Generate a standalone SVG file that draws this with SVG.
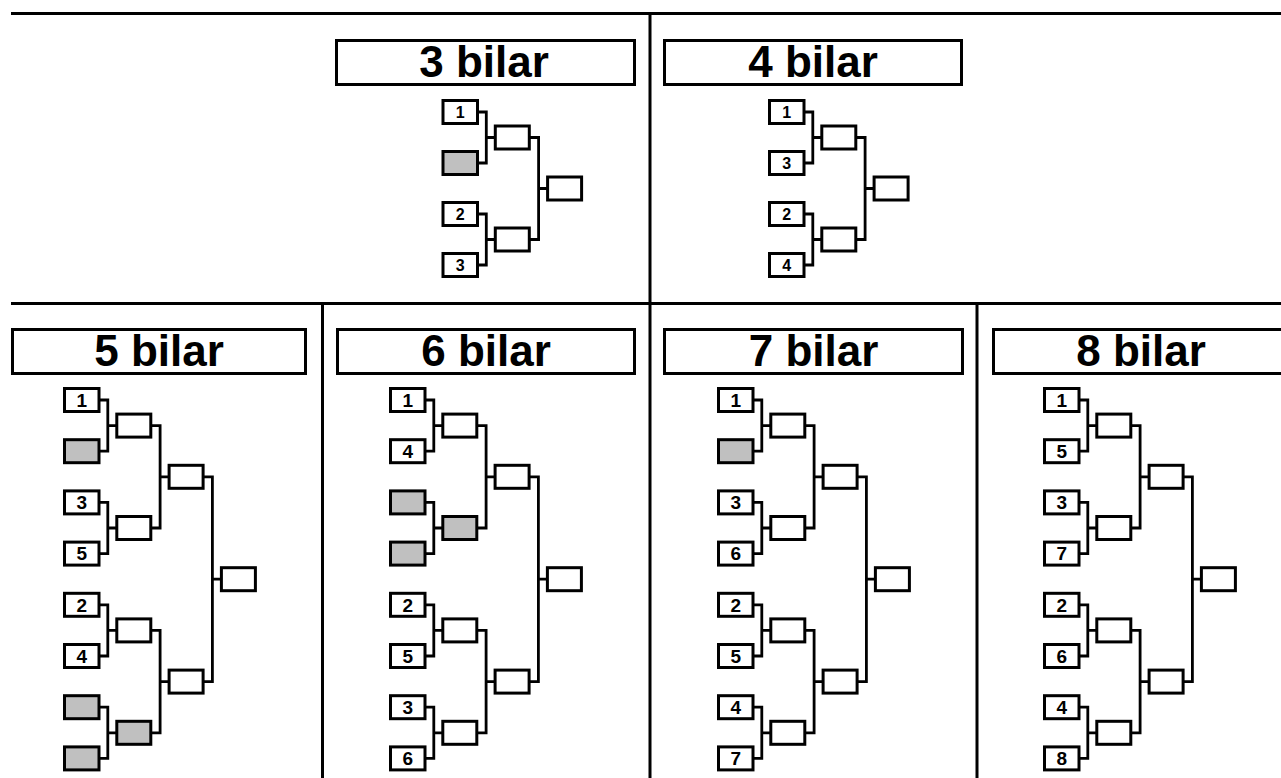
<svg xmlns="http://www.w3.org/2000/svg" xmlns:xlink="http://www.w3.org/1999/xlink" width="1281" height="778" viewBox="0 0 1281 778">
<style>
.frame{fill:none;stroke:#000;stroke-width:3}
.tbox{fill:#fff;stroke:#000;stroke-width:3}
.box{fill:#fff;stroke:#000;stroke-width:3}
.gray{fill:#c0c0c0}
.ln{fill:none;stroke:#000;stroke-width:2.8}
.title{font-family:"Liberation Sans",Arial,sans-serif;font-weight:bold;font-size:44px;text-anchor:middle;fill:#000}
.nt{font-family:"Liberation Sans",Arial,sans-serif;font-weight:bold;font-size:16px;text-anchor:middle;fill:#000}
.nb{font-family:"Liberation Sans",Arial,sans-serif;font-weight:bold;font-size:19px;text-anchor:middle;fill:#000}
</style>
<defs>
<path id="connTop" class="ln" d="M36 112 H44.8 V163 H36 M44.8 137.5 H53.8 M36 214 H44.8 V265 H36 M44.8 239.5 H53.8 M87.8 137.5 H97.1 V239.5 H87.8 M97.1 188.5 H106.1"/>
<path id="connBot" class="ln" d="M36 400 H44.8 V451.2 H36 M44.8 425.6 H53.8 M36 502.4 H44.8 V553.6 H36 M44.8 528 H53.8 M36 604.8 H44.8 V656 H36 M44.8 630.4 H53.8 M36 707.2 H44.8 V758.4 H36 M44.8 732.8 H53.8 M87.8 425.6 H97.1 V528 H87.8 M97.1 476.8 H106.1 M87.8 630.4 H97.1 V732.8 H87.8 M97.1 681.6 H106.1 M140.1 476.8 H149.4 V681.6 H140.1 M149.4 579.2 H158.4"/>
</defs>
<rect x="0" y="0" width="1281" height="778" fill="#fff"/>
<g id="frame">
<path class="frame" d="M11 13.5 H1281 M11 303.5 H1281 M650 13.5 V778 M322.5 303.5 V778 M977 303.5 V778"/>
</g>
<g id="connectors">
<use xlink:href="#connTop" transform="translate(441.5,0)"/>
<use xlink:href="#connTop" transform="translate(768,0)"/>
<use xlink:href="#connBot" transform="translate(63,0)"/>
<use xlink:href="#connBot" transform="translate(389,0)"/>
<use xlink:href="#connBot" transform="translate(717,0)"/>
<use xlink:href="#connBot" transform="translate(1043,0)"/>
</g>
<!-- 3 bilar -->
<g id="t3"><rect class="tbox" x="336.5" y="40.5" width="298" height="44"/><text class="title" x="484" y="77">3 bilar</text></g>
<g transform="translate(441.5,0)">
<g id="p3-e1"><rect class="box" x="1.5" y="100.5" width="34.5" height="23"/><text class="nt" x="18.75" y="117.7">1</text></g>
<g id="p3-e2"><rect class="box gray" x="1.5" y="151.5" width="34.5" height="23"/></g>
<g id="p3-e3"><rect class="box" x="1.5" y="202.5" width="34.5" height="23"/><text class="nt" x="18.75" y="219.7">2</text></g>
<g id="p3-e4"><rect class="box" x="1.5" y="253.5" width="34.5" height="23"/><text class="nt" x="18.75" y="270.7">3</text></g>
<g id="p3-r1a"><rect class="box" x="53.8" y="126" width="34" height="23"/></g>
<g id="p3-r1b"><rect class="box" x="53.8" y="228" width="34" height="23"/></g>
<g id="p3-f"><rect class="box" x="106.1" y="177" width="34" height="23"/></g>
</g>
<!-- 4 bilar -->
<g id="t4"><rect class="tbox" x="664.5" y="40.5" width="297" height="44"/><text class="title" x="813" y="77">4 bilar</text></g>
<g transform="translate(768,0)">
<g id="p4-e1"><rect class="box" x="1.5" y="100.5" width="34.5" height="23"/><text class="nt" x="18.75" y="117.7">1</text></g>
<g id="p4-e2"><rect class="box" x="1.5" y="151.5" width="34.5" height="23"/><text class="nt" x="18.75" y="168.7">3</text></g>
<g id="p4-e3"><rect class="box" x="1.5" y="202.5" width="34.5" height="23"/><text class="nt" x="18.75" y="219.7">2</text></g>
<g id="p4-e4"><rect class="box" x="1.5" y="253.5" width="34.5" height="23"/><text class="nt" x="18.75" y="270.7">4</text></g>
<g id="p4-r1a"><rect class="box" x="53.8" y="126" width="34" height="23"/></g>
<g id="p4-r1b"><rect class="box" x="53.8" y="228" width="34" height="23"/></g>
<g id="p4-f"><rect class="box" x="106.1" y="177" width="34" height="23"/></g>
</g>
<!-- 5 bilar -->
<g id="t5"><rect class="tbox" x="12.5" y="329.5" width="293" height="44"/><text class="title" x="159" y="366">5 bilar</text></g>
<g transform="translate(63,0)">
<g id="p5-e1"><rect class="box" x="1.5" y="388.5" width="34.5" height="23"/><text class="nb" x="18.75" y="406.8">1</text></g>
<g id="p5-e2"><rect class="box gray" x="1.5" y="439.7" width="34.5" height="23"/></g>
<g id="p5-e3"><rect class="box" x="1.5" y="490.9" width="34.5" height="23"/><text class="nb" x="18.75" y="509.2">3</text></g>
<g id="p5-e4"><rect class="box" x="1.5" y="542.1" width="34.5" height="23"/><text class="nb" x="18.75" y="560.4">5</text></g>
<g id="p5-e5"><rect class="box" x="1.5" y="593.3" width="34.5" height="23"/><text class="nb" x="18.75" y="611.6">2</text></g>
<g id="p5-e6"><rect class="box" x="1.5" y="644.5" width="34.5" height="23"/><text class="nb" x="18.75" y="662.8">4</text></g>
<g id="p5-e7"><rect class="box gray" x="1.5" y="695.7" width="34.5" height="23"/></g>
<g id="p5-e8"><rect class="box gray" x="1.5" y="746.9" width="34.5" height="23"/></g>
<g id="p5-r1a"><rect class="box" x="53.8" y="414.1" width="34" height="23"/></g>
<g id="p5-r1b"><rect class="box" x="53.8" y="516.5" width="34" height="23"/></g>
<g id="p5-r1c"><rect class="box" x="53.8" y="618.9" width="34" height="23"/></g>
<g id="p5-r1d"><rect class="box gray" x="53.8" y="721.3" width="34" height="23"/></g>
<g id="p5-r2a"><rect class="box" x="106.1" y="465.3" width="34" height="23"/></g>
<g id="p5-r2b"><rect class="box" x="106.1" y="670.1" width="34" height="23"/></g>
<g id="p5-f"><rect class="box" x="158.4" y="567.7" width="34" height="23"/></g>
</g>
<!-- 6 bilar -->
<g id="t6"><rect class="tbox" x="337.5" y="329.5" width="297" height="44"/><text class="title" x="486" y="366">6 bilar</text></g>
<g transform="translate(389,0)">
<g id="p6-e1"><rect class="box" x="1.5" y="388.5" width="34.5" height="23"/><text class="nb" x="18.75" y="406.8">1</text></g>
<g id="p6-e2"><rect class="box" x="1.5" y="439.7" width="34.5" height="23"/><text class="nb" x="18.75" y="458">4</text></g>
<g id="p6-e3"><rect class="box gray" x="1.5" y="490.9" width="34.5" height="23"/></g>
<g id="p6-e4"><rect class="box gray" x="1.5" y="542.1" width="34.5" height="23"/></g>
<g id="p6-e5"><rect class="box" x="1.5" y="593.3" width="34.5" height="23"/><text class="nb" x="18.75" y="611.6">2</text></g>
<g id="p6-e6"><rect class="box" x="1.5" y="644.5" width="34.5" height="23"/><text class="nb" x="18.75" y="662.8">5</text></g>
<g id="p6-e7"><rect class="box" x="1.5" y="695.7" width="34.5" height="23"/><text class="nb" x="18.75" y="714">3</text></g>
<g id="p6-e8"><rect class="box" x="1.5" y="746.9" width="34.5" height="23"/><text class="nb" x="18.75" y="765.2">6</text></g>
<g id="p6-r1a"><rect class="box" x="53.8" y="414.1" width="34" height="23"/></g>
<g id="p6-r1b"><rect class="box gray" x="53.8" y="516.5" width="34" height="23"/></g>
<g id="p6-r1c"><rect class="box" x="53.8" y="618.9" width="34" height="23"/></g>
<g id="p6-r1d"><rect class="box" x="53.8" y="721.3" width="34" height="23"/></g>
<g id="p6-r2a"><rect class="box" x="106.1" y="465.3" width="34" height="23"/></g>
<g id="p6-r2b"><rect class="box" x="106.1" y="670.1" width="34" height="23"/></g>
<g id="p6-f"><rect class="box" x="158.4" y="567.7" width="34" height="23"/></g>
</g>
<!-- 7 bilar -->
<g id="t7"><rect class="tbox" x="664.5" y="329.5" width="298" height="44"/><text class="title" x="813.5" y="366">7 bilar</text></g>
<g transform="translate(717,0)">
<g id="p7-e1"><rect class="box" x="1.5" y="388.5" width="34.5" height="23"/><text class="nb" x="18.75" y="406.8">1</text></g>
<g id="p7-e2"><rect class="box gray" x="1.5" y="439.7" width="34.5" height="23"/></g>
<g id="p7-e3"><rect class="box" x="1.5" y="490.9" width="34.5" height="23"/><text class="nb" x="18.75" y="509.2">3</text></g>
<g id="p7-e4"><rect class="box" x="1.5" y="542.1" width="34.5" height="23"/><text class="nb" x="18.75" y="560.4">6</text></g>
<g id="p7-e5"><rect class="box" x="1.5" y="593.3" width="34.5" height="23"/><text class="nb" x="18.75" y="611.6">2</text></g>
<g id="p7-e6"><rect class="box" x="1.5" y="644.5" width="34.5" height="23"/><text class="nb" x="18.75" y="662.8">5</text></g>
<g id="p7-e7"><rect class="box" x="1.5" y="695.7" width="34.5" height="23"/><text class="nb" x="18.75" y="714">4</text></g>
<g id="p7-e8"><rect class="box" x="1.5" y="746.9" width="34.5" height="23"/><text class="nb" x="18.75" y="765.2">7</text></g>
<g id="p7-r1a"><rect class="box" x="53.8" y="414.1" width="34" height="23"/></g>
<g id="p7-r1b"><rect class="box" x="53.8" y="516.5" width="34" height="23"/></g>
<g id="p7-r1c"><rect class="box" x="53.8" y="618.9" width="34" height="23"/></g>
<g id="p7-r1d"><rect class="box" x="53.8" y="721.3" width="34" height="23"/></g>
<g id="p7-r2a"><rect class="box" x="106.1" y="465.3" width="34" height="23"/></g>
<g id="p7-r2b"><rect class="box" x="106.1" y="670.1" width="34" height="23"/></g>
<g id="p7-f"><rect class="box" x="158.4" y="567.7" width="34" height="23"/></g>
</g>
<!-- 8 bilar -->
<g id="t8"><rect class="tbox" x="993.5" y="329.5" width="297" height="44"/><text class="title" x="1141" y="366">8 bilar</text></g>
<g transform="translate(1043,0)">
<g id="p8-e1"><rect class="box" x="1.5" y="388.5" width="34.5" height="23"/><text class="nb" x="18.75" y="406.8">1</text></g>
<g id="p8-e2"><rect class="box" x="1.5" y="439.7" width="34.5" height="23"/><text class="nb" x="18.75" y="458">5</text></g>
<g id="p8-e3"><rect class="box" x="1.5" y="490.9" width="34.5" height="23"/><text class="nb" x="18.75" y="509.2">3</text></g>
<g id="p8-e4"><rect class="box" x="1.5" y="542.1" width="34.5" height="23"/><text class="nb" x="18.75" y="560.4">7</text></g>
<g id="p8-e5"><rect class="box" x="1.5" y="593.3" width="34.5" height="23"/><text class="nb" x="18.75" y="611.6">2</text></g>
<g id="p8-e6"><rect class="box" x="1.5" y="644.5" width="34.5" height="23"/><text class="nb" x="18.75" y="662.8">6</text></g>
<g id="p8-e7"><rect class="box" x="1.5" y="695.7" width="34.5" height="23"/><text class="nb" x="18.75" y="714">4</text></g>
<g id="p8-e8"><rect class="box" x="1.5" y="746.9" width="34.5" height="23"/><text class="nb" x="18.75" y="765.2">8</text></g>
<g id="p8-r1a"><rect class="box" x="53.8" y="414.1" width="34" height="23"/></g>
<g id="p8-r1b"><rect class="box" x="53.8" y="516.5" width="34" height="23"/></g>
<g id="p8-r1c"><rect class="box" x="53.8" y="618.9" width="34" height="23"/></g>
<g id="p8-r1d"><rect class="box" x="53.8" y="721.3" width="34" height="23"/></g>
<g id="p8-r2a"><rect class="box" x="106.1" y="465.3" width="34" height="23"/></g>
<g id="p8-r2b"><rect class="box" x="106.1" y="670.1" width="34" height="23"/></g>
<g id="p8-f"><rect class="box" x="158.4" y="567.7" width="34" height="23"/></g>
</g>
</svg>
